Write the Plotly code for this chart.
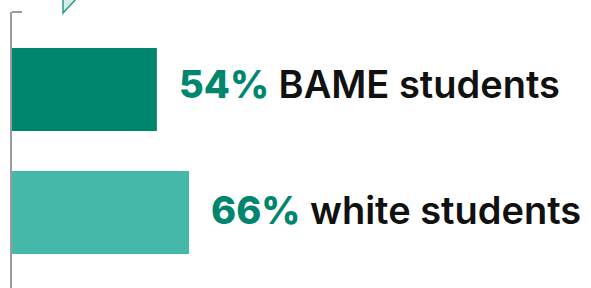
import plotly.graph_objects as go

categories = ["BAME students", "white students"]
values = [54, 66]
colors = ["#00866f", "#45b8a9"]
pct_color = "#00866f"

W, H = 591, 288
ml, mt = 12, 12
px_per_unit = 2.683
xmax = (W - ml) / px_per_unit

fig = go.Figure()
fig.add_trace(go.Bar(
    x=values, y=[0, 1], orientation="h",
    marker=dict(color=colors, line=dict(width=0)),
    width=0.675, hoverinfo="skip",
))

for i, (c, v) in enumerate(zip(categories, values)):
    fig.add_annotation(
        x=v, y=i, xref="x", yref="y",
        text=f"<span style='color:{pct_color};font-weight:800'>{v}%</span> {c}",
        showarrow=False, xanchor="left", yanchor="middle",
        xshift=20, yshift=5 if i == 0 else 2,
        font=dict(family="Inter", size=38, color="#111111", weight=600),
    )

# decorative top tick on axis and triangle marker
fig.add_shape(type="line", xref="paper", yref="paper",
              x0=0, x1=10 / (W - ml), y0=1, y1=1,
              line=dict(color="#9a9aa0", width=2))
fig.add_shape(type="path", xref="paper", yref="paper",
              path=f"M {51/(W-ml)} {1+14/(H-mt)} L {65/(W-ml)} {1+14/(H-mt)} L {51/(W-ml)} {1-1/(H-mt)} Z",
              fillcolor="#d4ede8", line=dict(color="#2a9b86", width=1.5))

fig.update_layout(
    width=W, height=H,
    margin=dict(l=ml, r=0, t=mt, b=0),
    paper_bgcolor="white", plot_bgcolor="white",
    showlegend=False,
    xaxis=dict(range=[0, xmax], visible=False, fixedrange=True),
    yaxis=dict(range=[-0.63 + (H - mt) / 123, -0.63], showline=True,
               linecolor="#9a9aa0", linewidth=2, showticklabels=False,
               showgrid=False, zeroline=False, ticks="", fixedrange=True),
)
fig.write_html("out.html", config={"displayModeBar": False, "staticPlot": True},
               post_script="document.body.style.margin='0';document.body.style.overflow='hidden';")
